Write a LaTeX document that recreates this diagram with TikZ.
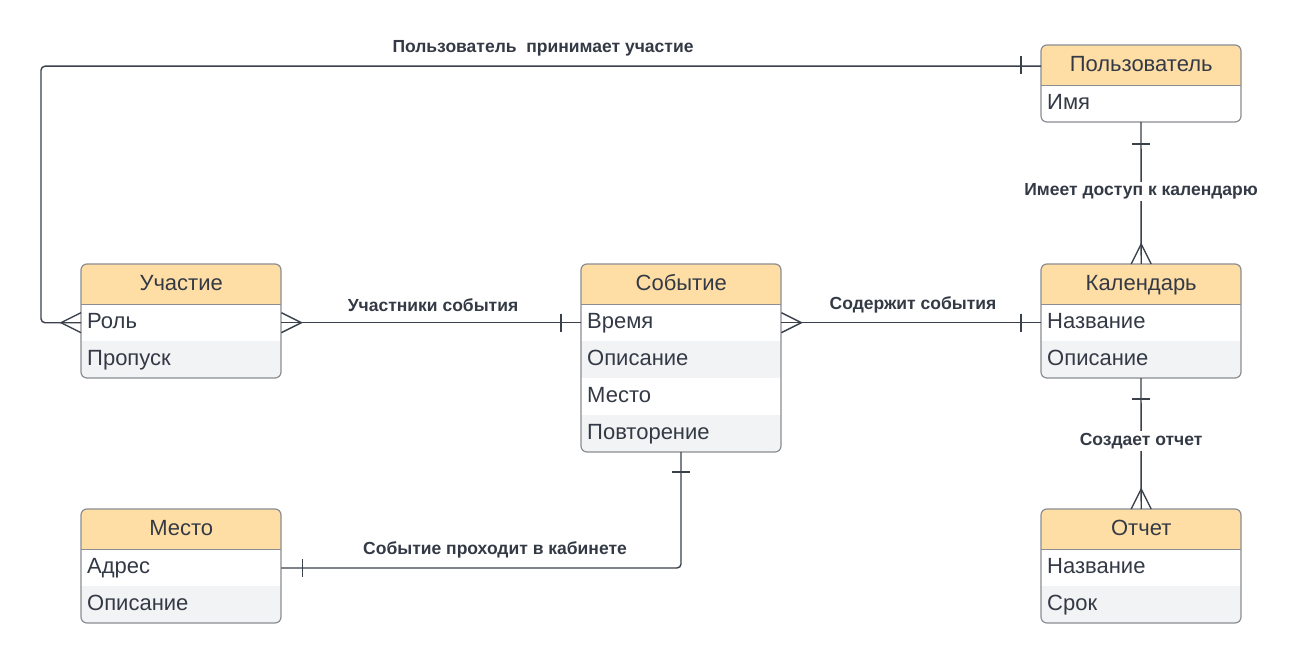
\documentclass[tikz,border=0pt]{standalone}
\usepackage{fontspec}
\setmainfont{Liberation Sans}
\usetikzlibrary{calc}
\definecolor{hdrcol}{HTML}{FFDEA6}
\definecolor{rowgray}{HTML}{F2F3F5}
\definecolor{txtcol}{HTML}{333A45}
\definecolor{bordercol}{HTML}{8A8D91}
\definecolor{conncol}{HTML}{3A414A}
\tikzset{
  hdr/.style={rectangle, fill=hdrcol, minimum width=200pt, minimum height=40pt, inner sep=0pt, anchor=north west, text=txtcol, text height=16pt, text depth=4pt, font=\fontsize{22}{26}\selectfont},
  erow/.style={rectangle, minimum width=200pt, minimum height=37pt, inner xsep=6pt, inner ysep=0pt, text width=188pt, align=left, anchor=north west, text=txtcol, text height=16pt, text depth=4pt, font=\fontsize{22}{26}\selectfont},
  grayrow/.style={erow, fill=rowgray},
  outline/.style={draw=bordercol, line width=1.2pt, rounded corners=6pt},
  sepline/.style={draw=bordercol, line width=0.8pt},
  conn/.style={draw=conncol, line width=1.4pt},
  lbl/.style={text=txtcol, font=\bfseries\fontsize{17.5}{21}\selectfont, inner sep=2pt},
}
\begin{document}
\begin{tikzpicture}[x=1pt, y=-1pt]
\useasboundingbox (0,0) rectangle (1307,663);
\fill[white] (0,0) rectangle (1307,663);

% ---------- Пользователь ----------
\begin{scope}
\clip[rounded corners=6pt] (1041,45) rectangle (1241,122);
\node[hdr] (uh) at (1041,45) {Пользователь};
\node[erow] (uname) at (1041,85) {Имя};
\end{scope}
\draw[sepline] (uh.south west) -- (uh.south east);
\draw[outline] (1041,45) rectangle (1241,122);
\coordinate (ubot) at (1141,122);

% ---------- Участие ----------
\begin{scope}
\clip[rounded corners=6pt] (81,264) rectangle (281,378);
\node[hdr] (ph) at (81,264) {Участие};
\node[erow] (prole) at (81,304) {Роль};
\node[grayrow] (ppass) at (81,341) {Пропуск};
\end{scope}
\draw[sepline] (ph.south west) -- (ph.south east);
\draw[outline] (81,264) rectangle (281,378);

% ---------- Событие ----------
\begin{scope}
\clip[rounded corners=6pt] (581,264) rectangle (781,452);
\node[hdr] (eh) at (581,264) {Событие};
\node[erow] (etime) at (581,304) {Время};
\node[grayrow] (edesc) at (581,341) {Описание};
\node[erow] (eplace) at (581,378) {Место};
\node[grayrow] (erep) at (581,415) {Повторение};
\end{scope}
\draw[sepline] (eh.south west) -- (eh.south east);
\draw[outline] (581,264) rectangle (781,452);
\coordinate (ebot) at (681,452);

% ---------- Календарь ----------
\begin{scope}
\clip[rounded corners=6pt] (1041,264) rectangle (1241,378);
\node[hdr] (ch) at (1041,264) {Календарь};
\node[erow] (cname) at (1041,304) {Название};
\node[grayrow] (cdesc) at (1041,341) {Описание};
\end{scope}
\draw[sepline] (ch.south west) -- (ch.south east);
\draw[outline] (1041,264) rectangle (1241,378);
\coordinate (cbot) at (1141,378);

% ---------- Место ----------
\begin{scope}
\clip[rounded corners=6pt] (81,509) rectangle (281,623);
\node[hdr] (mh) at (81,509) {Место};
\node[erow] (maddr) at (81,549) {Адрес};
\node[grayrow] (mdesc) at (81,586) {Описание};
\end{scope}
\draw[sepline] (mh.south west) -- (mh.south east);
\draw[outline] (81,509) rectangle (281,623);

% ---------- Отчет ----------
\begin{scope}
\clip[rounded corners=6pt] (1041,509) rectangle (1241,623);
\node[hdr] (rh) at (1041,509) {Отчет};
\node[erow] (rname) at (1041,549) {Название};
\node[grayrow] (rterm) at (1041,586) {Срок};
\end{scope}
\draw[sepline] (rh.south west) -- (rh.south east);
\draw[outline] (1041,509) rectangle (1241,623);

% ---------- connectors ----------
\coordinate (lft) at (41,0);
\coordinate (dn) at (0,568);

% 1: Пользователь -> Участие
\draw[conn, rounded corners=4pt] ($(uh.west)+(0,1)$) -- ($(lft |- uh.west)+(0,1)$) -- (lft |- prole.west) -- (prole.west);
\draw[conn] ($(uh.west)+(-20,-9)$) -- ++(0,18);
\draw[conn] ($(prole.west)+(0,-10)$) -- ($(prole.west)+(-20,0)$) -- ($(prole.west)+(0,10)$);
\node[lbl] (l1) at (543,48) {Пользователь\ \ принимает участие};

% 2: Участие -> Событие
\draw[conn] (prole.east) -- (etime.west);
\draw[conn] ($(prole.east)+(0,-10)$) -- ($(prole.east)+(20,0)$) -- ($(prole.east)+(0,10)$);
\draw[conn] ($(etime.west)+(-20,-9)$) -- ++(0,18);
\node[lbl] (l2) at (433,305) {Участники события};

% 3: Событие -> Календарь
\draw[conn] (etime.east) -- (cname.west);
\draw[conn] ($(etime.east)+(0,-10)$) -- ($(etime.east)+(20,0)$) -- ($(etime.east)+(0,10)$);
\draw[conn] ($(cname.west)+(-20,-9)$) -- ++(0,18);
\node[lbl] (l3) at (913,305) {Содержит события};

% 4: Пользователь -> Календарь
\draw[conn] (ubot) -- node[lbl, fill=white, pos=0.49] (l4) {Имеет доступ к календарю} (ch.north);
\draw[conn] ($(ubot)+(-9,22)$) -- ++(18,0);
\draw[conn] ($(ch.north)+(-10,0)$) -- ($(ch.north)+(0,-20)$) -- ($(ch.north)+(10,0)$);

% 5: Календарь -> Отчет
\draw[conn] (cbot) -- node[lbl, fill=white, pos=0.48] (l5) {Создает отчет} (rh.north);
\draw[conn] ($(cbot)+(-9,21)$) -- ++(18,0);
\draw[conn] ($(rh.north)+(-10,0)$) -- ($(rh.north)+(0,-20)$) -- ($(rh.north)+(10,0)$);

% 6: Событие -> Место
\draw[conn, rounded corners=4pt] (ebot) -- (ebot |- dn) -- (maddr.east |- dn);
\draw[conn] ($(ebot)+(-9,20)$) -- ++(18,0);
\draw[conn] ($(maddr.east |- dn)+(21,-9)$) -- ++(0,18);
\node[lbl] (l6) at (495,550) {Событие проходит в кабинете};
\end{tikzpicture}
\end{document}
